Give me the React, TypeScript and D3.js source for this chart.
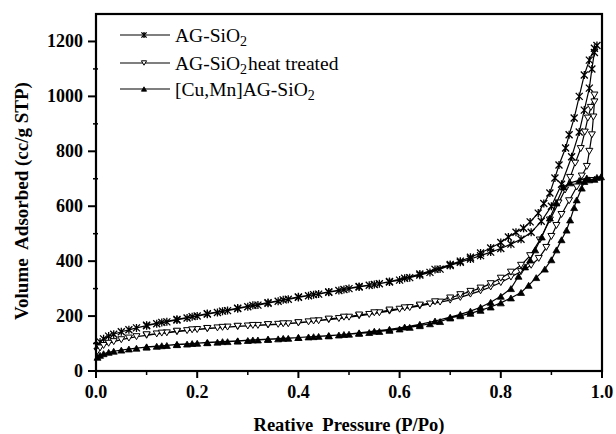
import React from 'react';
import * as d3 from 'd3';

const xTicks = [0, 0.2, 0.4, 0.6, 0.8, 1.0];
const xMinor = [0.1, 0.3, 0.5, 0.7, 0.9];
const yTicks = [0, 200, 400, 600, 800, 1000, 1200];
const yMinor = [100, 300, 500, 700, 900, 1100];

const lowP = [0.003, 0.008, 0.015, 0.025, 0.035, 0.05, 0.065, 0.08, 0.1, 0.12, 0.14, 0.16, 0.18, 0.2, 0.22, 0.24, 0.26, 0.28, 0.3, 0.32, 0.34, 0.36, 0.38, 0.4, 0.42, 0.44, 0.46, 0.48, 0.5, 0.52, 0.54, 0.56, 0.58, 0.6, 0.62, 0.64, 0.66, 0.68, 0.7, 0.72, 0.74, 0.76, 0.78, 0.8];

// AG-SiO2
const agLowV = [92, 106, 117, 127, 134, 143, 150, 157, 165, 172, 179, 186, 193, 200, 207, 213, 220, 227, 234, 240, 247, 254, 261, 268, 274, 280, 287, 293, 300, 306, 312, 318, 324, 331, 340, 349, 359, 371, 384, 396, 408, 420, 433, 446];
const agHighP = [0.82, 0.84, 0.86, 0.88, 0.9, 0.92, 0.94, 0.955, 0.965, 0.975, 0.98, 0.985, 0.99];
const agHighV = [462, 480, 505, 545, 600, 680, 780, 870, 950, 1030, 1100, 1160, 1185];
const agDesP = [0.985, 0.975, 0.965, 0.955, 0.945, 0.935, 0.928, 0.915, 0.907, 0.897, 0.885, 0.874, 0.858, 0.845, 0.83, 0.815, 0.8, 0.78, 0.76, 0.74, 0.72, 0.7, 0.67, 0.64, 0.61, 0.58, 0.55, 0.52, 0.49, 0.46, 0.43, 0.4, 0.37, 0.34, 0.31, 0.28, 0.25, 0.22, 0.19, 0.16, 0.13, 0.1];
const agDesV = [1175, 1132, 1078, 1000, 921, 860, 812, 750, 703, 648, 610, 575, 543, 520, 505, 488, 468, 448, 430, 414, 400, 388, 370, 353, 338, 326, 315, 308, 297, 288, 278, 270, 259, 249, 239, 229, 218, 209, 198, 188, 177, 167];

// AG-SiO2 heat treated
const htLowV = [72, 84, 93, 101, 107, 114, 120, 125, 130, 135, 139, 143, 147, 151, 154, 157, 160, 162, 164, 166, 168, 170, 172, 175, 179, 183, 187, 191, 196, 201, 206, 212, 218, 225, 231, 237, 244, 251, 258, 268, 280, 292, 306, 322];
const htHighP = [0.82, 0.84, 0.86, 0.875, 0.89, 0.9, 0.91, 0.92, 0.935, 0.95, 0.96, 0.97, 0.975, 0.98, 0.983, 0.985];
const htHighV = [342, 362, 385, 410, 450, 490, 530, 570, 620, 670, 710, 745, 800, 860, 925, 980];
const htDesP = [0.985, 0.978, 0.972, 0.966, 0.958, 0.947, 0.937, 0.927, 0.914, 0.897, 0.877, 0.858, 0.84, 0.82, 0.8, 0.78, 0.76, 0.74, 0.72, 0.7, 0.67, 0.64, 0.61, 0.58, 0.55, 0.52, 0.49, 0.46, 0.43, 0.4, 0.37, 0.34, 0.31, 0.28, 0.25, 0.22, 0.19, 0.16, 0.13, 0.1];
const htDesV = [1005, 960, 921, 870, 810, 757, 705, 659, 612, 550, 477, 420, 385, 360, 338, 318, 302, 290, 278, 266, 252, 240, 230, 222, 212, 204, 196, 189, 182, 176, 172, 169, 166, 163, 159, 155, 150, 145, 138, 132];

// [Cu,Mn]AG-SiO2
const cmLowV = [50, 57, 63, 68, 72, 76, 80, 83, 87, 90, 93, 96, 98, 101, 103, 105, 107, 109, 111, 113, 115, 117, 119, 122, 124, 126, 128, 131, 134, 137, 140, 144, 148, 153, 159, 165, 172, 180, 193, 201, 210, 221, 233, 248];
const cmHighP = [0.82, 0.84, 0.855, 0.87, 0.887, 0.9, 0.91, 0.92, 0.93, 0.937, 0.945, 0.95, 0.96, 0.965, 0.975, 0.985, 0.998];
const cmHighV = [266, 286, 312, 340, 371, 405, 441, 478, 513, 550, 595, 623, 666, 690, 696, 698, 707];
const cmDesP = [0.99, 0.97, 0.955, 0.937, 0.924, 0.91, 0.897, 0.881, 0.868, 0.858, 0.848, 0.835, 0.82, 0.8, 0.78, 0.76, 0.74, 0.72, 0.7, 0.67, 0.64, 0.61, 0.58, 0.55, 0.52, 0.49, 0.46, 0.43, 0.4, 0.37, 0.34, 0.31, 0.28, 0.25, 0.22, 0.19, 0.16, 0.13, 0.1];
const cmDesV = [705, 703, 694, 685, 670, 612, 557, 488, 441, 404, 379, 345, 300, 272, 250, 232, 218, 206, 196, 182, 170, 160, 152, 145, 139, 133, 129, 125, 122, 119, 116, 113, 110, 107, 104, 100, 97, 92, 88];

const W = 616, H = 434;
const L = 96, R = 602, T = 14, B = 371;

const x = d3.scaleLinear().domain([0, 1]).range([L, R]);
const y = d3.scaleLinear().domain([0, 1300]).range([B, T]);

type Pt = [number, number];
const zip = (p: number[], v: number[]): Pt[] => p.map((pp, i) => [pp, v[i]]);

const series = [
  { name: 'ag', marker: 'star', pts: [...zip(lowP, agLowV), ...zip(agHighP, agHighV), ...zip(agDesP, agDesV)] },
  { name: 'ht', marker: 'tdown', pts: [...zip(lowP, htLowV), ...zip(htHighP, htHighV), ...zip(htDesP, htDesV)] },
  { name: 'cm', marker: 'tup', pts: [...zip(lowP, cmLowV), ...zip(cmHighP, cmHighV), ...zip(cmDesP, cmDesV)] },
];

const line = d3.line<Pt>().x(d => x(d[0])).y(d => y(d[1]));

function Marker({ kind, cx, cy, s = 3.5 }: { kind: string; cx: number; cy: number; s?: number }) {
  if (kind === 'star') {
    return <path d={`M${cx - s},${cy - s}L${cx + s},${cy + s}M${cx - s},${cy + s}L${cx + s},${cy - s}M${cx},${cy - s - 0.5}L${cx},${cy + s + 0.5}`} stroke="#000" strokeWidth={1.3} fill="none" />;
  }
  if (kind === 'tdown') {
    const h = s * 1.7;
    return <path d={`M${cx - s},${cy - h / 2}L${cx + s},${cy - h / 2}L${cx},${cy + h / 2}Z`} stroke="#000" strokeWidth={1} fill="#fff" />;
  }
  const h = s * 1.7;
  return <path d={`M${cx - s},${cy + h / 2}L${cx + s},${cy + h / 2}L${cx},${cy - h / 2}Z`} stroke="#000" strokeWidth={0.8} fill="#000" />;
}

const font = '"Liberation Serif", "Times New Roman", serif';

export default function App() {
  return (
    <svg width={W} height={H} style={{ position: 'absolute', left: 0, top: 0, background: '#fff' }} fontFamily={font}>
      <rect x={0} y={0} width={W} height={H} fill="#fff" />
      {series.map(s => (
        <g key={s.name}>
          <path d={line(s.pts) || ''} fill="none" stroke="#000" strokeWidth={1.2} />
          {s.pts.map((p, i) => (
            <Marker key={i} kind={s.marker} cx={x(p[0])} cy={y(p[1])} />
          ))}
        </g>
      ))}
      {/* frame */}
      <rect x={L} y={T} width={R - L} height={B - T} fill="none" stroke="#000" strokeWidth={2.2} />
      {/* y ticks */}
      {yTicks.map(t => (
        <g key={'y' + t}>
          <line x1={L - 8} x2={L} y1={y(t)} y2={y(t)} stroke="#000" strokeWidth={2} />
          <text x={L - 13} y={y(t) + 6} textAnchor="end" fontSize={18} fontWeight="bold">{t}</text>
        </g>
      ))}
      {yMinor.map(t => (
        <line key={'ym' + t} x1={L - 3} x2={L + 2} y1={y(t)} y2={y(t)} stroke="#000" strokeWidth={1.5} />
      ))}
      {/* x ticks */}
      {xTicks.map(t => (
        <g key={'x' + t}>
          <line x1={x(t)} x2={x(t)} y1={B} y2={B + 7} stroke="#000" strokeWidth={2} />
          <text x={x(t)} y={B + 27} textAnchor="middle" fontSize={18} fontWeight="bold">{t.toFixed(1)}</text>
        </g>
      ))}
      {xMinor.map(t => (
        <line key={'xm' + t} x1={x(t)} x2={x(t)} y1={B} y2={B + 4} stroke="#000" strokeWidth={1.5} />
      ))}
      {/* axis titles */}
      <text x={349} y={431} textAnchor="middle" fontSize={18.5} fontWeight="bold" style={{ whiteSpace: 'pre' }}>{'Reative  Pressure (P/Po)'}</text>
      <text transform={`translate(28,201) rotate(-90)`} textAnchor="middle" fontSize={19} fontWeight="bold" style={{ whiteSpace: 'pre' }}>{'Volume  Adsorbed (cc/g STP)'}</text>
      {/* legend */}
      {[
        { kind: 'star', yy: 35, label: 'ag' },
        { kind: 'tdown', yy: 63, label: 'ht' },
        { kind: 'tup', yy: 89, label: 'cm' },
      ].map(e => (
        <g key={e.label}>
          <line x1={120} x2={170} y1={e.yy} y2={e.yy} stroke="#000" strokeWidth={1.2} />
          <Marker kind={e.kind} cx={144} cy={e.yy} s={2.6} />
        </g>
      ))}
      <text x={175} y={42} fontSize={19.5}>AG-SiO<tspan fontSize={14} dy={4}>2</tspan></text>
      <text x={175} y={70} fontSize={19.5}>AG-SiO<tspan fontSize={14} dy={4}>2</tspan><tspan dy={-4} dx={1}>heat treated</tspan></text>
      <text x={175} y={96} fontSize={19.5}>[Cu,Mn]AG-SiO<tspan fontSize={14} dy={4}>2</tspan></text>
    </svg>
  );
}
